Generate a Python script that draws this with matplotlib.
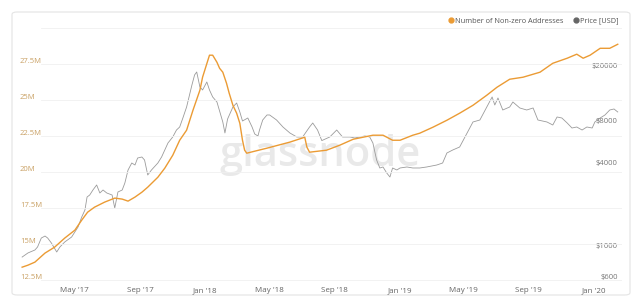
import pandas as pd
import matplotlib
matplotlib.use("Agg")
import matplotlib.pyplot as plt
import matplotlib.transforms as mtransforms
from matplotlib.lines import Line2D
from matplotlib.patches import FancyBboxPatch

plt.rcParams["font.family"] = ["Open Sans", "DejaVu Sans"]

# number of non-zero addresses (millions)
ADDR_DATES = [
    "2017-01-22", "2017-02-02", "2017-02-15", "2017-03-06", "2017-03-24", "2017-04-12",
    "2017-05-01", "2017-05-14", "2017-05-25", "2017-06-07", "2017-06-26", "2017-07-15",
    "2017-07-29", "2017-08-09", "2017-08-22", "2017-09-04", "2017-09-15", "2017-10-04",
    "2017-10-17", "2017-11-01", "2017-11-14", "2017-11-27", "2017-12-09", "2017-12-22",
    "2017-12-27", "2018-01-06", "2018-01-09", "2018-01-15", "2018-01-23", "2018-01-28",
    "2018-02-03", "2018-02-10", "2018-02-15", "2018-02-22", "2018-03-01", "2018-03-07",
    "2018-03-12", "2018-03-16", "2018-03-20", "2018-04-04", "2018-04-27", "2018-06-09",
    "2018-07-07", "2018-07-11", "2018-07-16", "2018-08-17", "2018-09-11", "2018-10-06",
    "2018-11-12", "2018-12-01", "2018-12-19", "2019-01-02", "2019-01-26", "2019-02-08",
    "2019-03-05", "2019-03-31", "2019-04-24", "2019-05-19", "2019-06-14", "2019-07-03",
    "2019-07-27", "2019-08-21", "2019-09-22", "2019-10-16", "2019-11-12", "2019-11-30",
    "2019-12-12", "2019-12-25", "2020-01-13", "2020-01-31", "2020-02-15",
]
ADDR_M = [
    13.36, 13.50, 13.71, 14.34, 14.75, 15.38,
    15.93, 16.63, 17.18, 17.53, 17.88, 18.16,
    18.09, 17.95, 18.23, 18.57, 18.92, 19.61,
    20.24, 21.14, 22.18, 22.88, 24.27, 25.66,
    26.56, 27.74, 28.09, 28.09, 27.60, 27.18,
    26.91, 26.14, 25.45, 24.61, 24.06, 23.36,
    22.18, 21.49, 21.28, 21.42, 21.63, 22.05,
    22.39, 21.70, 21.35, 21.49, 21.84, 22.25,
    22.53, 22.53, 22.18, 22.18, 22.53, 22.67,
    23.09, 23.57, 24.06, 24.61, 25.31, 25.86,
    26.42, 26.56, 26.91, 27.53, 27.88, 28.16,
    27.88, 28.09, 28.57, 28.57, 28.85,
]

# BTC price in USD
PRICE_DATES = [
    "2017-01-22", "2017-02-02", "2017-02-15", "2017-02-20", "2017-02-27", "2017-03-06",
    "2017-03-11", "2017-03-18", "2017-03-28", "2017-04-03", "2017-04-12", "2017-04-25",
    "2017-05-07", "2017-05-14", "2017-05-20", "2017-05-24", "2017-05-29", "2017-06-04",
    "2017-06-11", "2017-06-17", "2017-06-23", "2017-06-30", "2017-07-10", "2017-07-15",
    "2017-07-21", "2017-07-29", "2017-08-03", "2017-08-09", "2017-08-16", "2017-08-22",
    "2017-08-27", "2017-09-04", "2017-09-09", "2017-09-15", "2017-09-22", "2017-10-04",
    "2017-10-11", "2017-10-17", "2017-10-23", "2017-11-01", "2017-11-08", "2017-11-14",
    "2017-11-20", "2017-11-27", "2017-12-07", "2017-12-12", "2017-12-16", "2017-12-22",
    "2017-12-27", "2018-01-04", "2018-01-09", "2018-01-15", "2018-01-23", "2018-01-28",
    "2018-02-03", "2018-02-07", "2018-02-12", "2018-02-22", "2018-03-01", "2018-03-07",
    "2018-03-12", "2018-03-22", "2018-03-30", "2018-04-04", "2018-04-10", "2018-04-13",
    "2018-04-19", "2018-04-27", "2018-05-02", "2018-05-15", "2018-05-27", "2018-06-09",
    "2018-06-22", "2018-07-03", "2018-07-16", "2018-07-22", "2018-07-31", "2018-08-08",
    "2018-08-23", "2018-09-05", "2018-09-16", "2018-09-30", "2018-10-09", "2018-10-18",
    "2018-10-28", "2018-11-06", "2018-11-12", "2018-11-19", "2018-11-25", "2018-12-01",
    "2018-12-08", "2018-12-14", "2018-12-19", "2018-12-27", "2019-01-02", "2019-01-15",
    "2019-01-26", "2019-02-08", "2019-02-21", "2019-03-12", "2019-03-23", "2019-03-31",
    "2019-04-11", "2019-04-24", "2019-05-08", "2019-05-19", "2019-06-01", "2019-06-14",
    "2019-06-20", "2019-06-24", "2019-06-29", "2019-07-05", "2019-07-14", "2019-07-27",
    "2019-08-02", "2019-08-15", "2019-08-28", "2019-09-09", "2019-09-18", "2019-10-05",
    "2019-10-16", "2019-10-24", "2019-11-02", "2019-11-12", "2019-11-21", "2019-11-30",
    "2019-12-10", "2019-12-19", "2019-12-29", "2020-01-03", "2020-01-13", "2020-01-22",
    "2020-01-31", "2020-02-08", "2020-02-15",
]
PRICE_USD = [
    873, 935, 982, 1033, 1199, 1240,
    1199, 1103, 950, 1033, 1122, 1220,
    1441, 1704, 1915, 2379, 2460, 2674,
    2908, 2544, 2674, 2544, 2460, 1980,
    2587, 2674, 3006, 3735, 4197, 4059,
    4563, 4639, 4413, 3436, 3735, 4197,
    4639, 5215, 5862, 6482, 7282, 7657,
    8900, 10693, 15445, 18255, 19187, 14938,
    14206, 16236, 14206, 12638, 11625, 10002,
    8325, 6929, 8752, 10693, 11432, 9838,
    8464, 8900, 7657, 6812, 6589, 7282,
    8607, 9359, 9359, 8607, 7657, 6929,
    6482, 6482, 7657, 8186, 7282, 6102,
    6482, 7282, 6482, 6482, 6372, 6482,
    6589, 6482, 5862, 4413, 3862, 3927,
    3552, 3323, 3862, 3735, 3862, 3927,
    3862, 3862, 3927, 4059, 4197, 4959,
    5215, 5484, 6929, 8325, 8607, 10693,
    11865, 12638, 11056, 12428, 10171, 10693,
    11625, 10517, 10171, 10517, 8607, 8325,
    7917, 9049, 8900, 8186, 7529, 7657,
    7282, 7657, 7529, 8325, 8900, 9359,
    10171, 10342, 9838,
]

ADDR_TICKS = [12.5, 15, 17.5, 20, 22.5, 25, 27.5]
ADDR_LABELS = ["12.5M", "15M", "17.5M", "20M", "22.5M", "25M", "27.5M"]
PRICE_TICKS = [600, 1000, 4000, 8000, 20000]
PRICE_LABELS = ["$600", "$1000", "$4000", "$8000", "$20000"]
X_TICKS = ["2017-05-01", "2017-09-01", "2018-01-01", "2018-05-01", "2018-09-01",
           "2019-01-01", "2019-05-01", "2019-09-01", "2020-01-01"]
X_LABELS = ["May '17", "Sep '17", "Jan '18", "May '18", "Sep '18",
            "Jan '19", "May '19", "Sep '19", "Jan '20"]

ORANGE = "#eb9b34"
GREY = "#9b9b9b"

fig = plt.figure(figsize=(6.4, 3.0), dpi=100)
fig.patch.set_facecolor("white")
# card frame (outline only, sits behind the axes)
fig.patches.append(FancyBboxPatch((12 / 640, 5 / 300), 618 / 640, 283 / 300,
                                  boxstyle="round,pad=0,rounding_size=0.008",
                                  transform=fig.transFigure, facecolor="none",
                                  edgecolor="#e4e4e4", lw=0.8, zorder=-1))

ax = fig.add_axes([20 / 640, 17 / 300, 602 / 640, 256 / 300])   # price (log)
ax2 = ax.twinx()                                                 # addresses
for a in (ax, ax2):
    a.patch.set_alpha(0)
    for s in a.spines.values():
        s.set_visible(False)

pdates = pd.to_datetime(PRICE_DATES)
adates = pd.to_datetime(ADDR_DATES)
xlim = (pd.Timestamp("2017-01-18"), pd.Timestamp("2020-02-23"))

ax.plot(pdates, PRICE_USD, color=GREY, lw=0.6, zorder=2)
ax.set_yscale("log")
ax.set_ylim(566, 40660)
ax.set_xlim(*xlim)
ax.set_yticks([])
ax.minorticks_off()
ax.set_xticks(pd.to_datetime(X_TICKS))
ax.set_xticklabels(X_LABELS)
ax.tick_params(axis="x", length=0, labelsize=5.8, labelcolor="#666666", pad=3)

ax2.plot(adates, ADDR_M, color=ORANGE, lw=1.0, zorder=3)
ax2.set_ylim(12.26, 30.05)
ax2.set_yticks([])
ax2.set_xlim(*xlim)

# faint horizontal grid for the left axis
for v in ADDR_TICKS + [30]:
    ax2.axhline(v, xmin=0.035, xmax=1, color="#f0f0f0", lw=0.6, zorder=0)

# tick labels drawn inside the plot, a little above their grid line
up = mtransforms.ScaledTranslation(0, 2.5 / 100, fig.dpi_scale_trans)
for v, lab in zip(ADDR_TICKS, ADDR_LABELS):
    ax2.text(0.0, v, lab, transform=ax2.get_yaxis_transform() + up,
             ha="left", va="center", fontsize=5.5, color="#c9a063")
for v, lab in zip(PRICE_TICKS, PRICE_LABELS):
    ax.text(0.993, v, lab, transform=ax.get_yaxis_transform() + up,
            ha="right", va="center", fontsize=5.5, color="#777777")

# watermark
ax.text(0.498, 0.5, "glassnode", transform=ax.transAxes, ha="center", va="center",
        fontsize=30, fontweight="semibold", color="#e9e9e9", zorder=1)

handles = [Line2D([], [], ls="none", marker="o", ms=3.5, color=ORANGE),
           Line2D([], [], ls="none", marker="o", ms=3.5, color="#666666")]
fig.legend(handles, ["Number of Non-zero Addresses", "Price [USD]"],
           loc="center right", bbox_to_anchor=(622 / 640, 1 - 21 / 300), ncol=2,
           frameon=False, fontsize=5.3, labelcolor="#555555", handlelength=0.5,
           handletextpad=0.3, columnspacing=1.4, borderpad=0)

fig.savefig("out.png", dpi=100)
